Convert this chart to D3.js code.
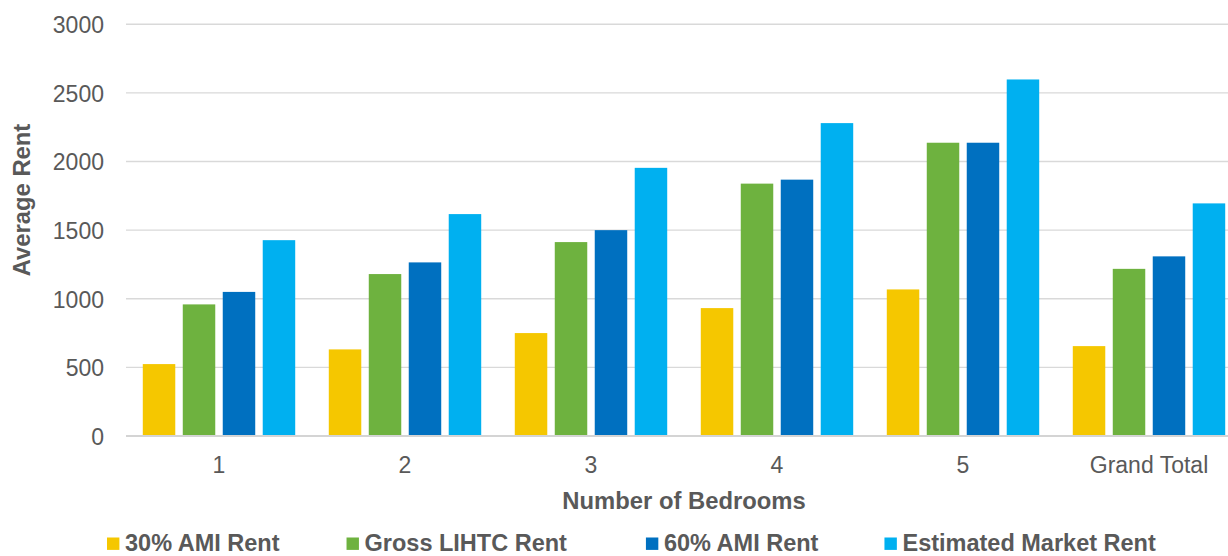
<!DOCTYPE html>
<html>
<head>
<meta charset="utf-8">
<script src="https://cdn.jsdelivr.net/npm/d3@7"></script>
<style>
  html, body { margin: 0; padding: 0; background: #fff; overflow: hidden; }
  svg { display: block; font-family: "Liberation Sans", Arial, sans-serif; }
</style>
</head>
<body>
<svg id="chart" width="1228" height="556"></svg>
<script>
const categories = ["1", "2", "3", "4", "5", "Grand Total"];
const seriesNames = ["30% AMI Rent", "Gross LIHTC Rent", "60% AMI Rent", "Estimated Market Rent"];
const ami30 = [524, 631, 750, 932, 1068, 655];
const grossLIHTC = [959, 1180, 1413, 1839, 2137, 1218];
const ami60 = [1050, 1265, 1500, 1868, 2137, 1309];
const marketRent = [1427, 1617, 1954, 2280, 2598, 1695];
const yTicks = [0, 500, 1000, 1500, 2000, 2500, 3000];
const colors = ["#F5C700", "#6EB23F", "#0070C0", "#00B0F0"];

const seriesValues = [ami30, grossLIHTC, ami60, marketRent];
const svg = d3.select("#chart");
const textColor = "#595959";

const x0 = d3.scaleBand().domain(categories).range([126, 1242]).padding(0);
const x1 = d3.scaleBand().domain(seriesNames).range([0, x0.bandwidth()])
  .paddingInner(0.1875).paddingOuter(0.42);
const y = d3.scaleLinear().domain([0, 3000]).range([436, 24.3]);

// gridlines
svg.append("g").selectAll("line").data(yTicks.filter(d => d > 0)).join("line")
  .attr("x1", 126).attr("x2", 1228)
  .attr("y1", d => y(d)).attr("y2", d => y(d))
  .attr("stroke", "#d9d9d9").attr("stroke-width", 1.4);

// bars
const groups = svg.append("g").selectAll("g").data(categories).join("g")
  .attr("transform", d => `translate(${x0(d)},0)`);
groups.selectAll("rect")
  .data((c, i) => seriesNames.map((s, j) => ({ s, j, v: seriesValues[j][i] })))
  .join("rect")
  .attr("x", d => x1(d.s))
  .attr("width", x1.bandwidth())
  .attr("y", d => y(d.v))
  .attr("height", d => y(0) - y(d.v))
  .attr("fill", d => colors[d.j]);

// baseline
svg.append("line").attr("x1", 126).attr("x2", 1228)
  .attr("y1", y(0)).attr("y2", y(0))
  .attr("stroke", "#d4d4d4").attr("stroke-width", 2.2);

// y axis
const yAxis = d3.axisLeft(y).tickValues(yTicks).tickFormat(d3.format("d")).tickSize(0).tickPadding(0);
const gy = svg.append("g").attr("transform", "translate(104,0)").call(yAxis);
gy.select(".domain").remove();
gy.selectAll("text").attr("fill", textColor).attr("font-size", "23px")
  .attr("font-family", "Liberation Sans, Arial, sans-serif").attr("dy", "0.36em");

// x axis
const xAxis = d3.axisBottom(x0).tickSize(0).tickPadding(0);
const gx = svg.append("g").attr("transform", "translate(0,473)").call(xAxis);
gx.select(".domain").remove();
gx.selectAll("text").attr("fill", textColor).attr("font-size", "23px")
  .attr("font-family", "Liberation Sans, Arial, sans-serif").attr("dy", 0).attr("y", 0);

// axis titles
svg.append("text").attr("x", 684).attr("y", 508.5)
  .attr("text-anchor", "middle").attr("font-size", "23.8px").attr("font-weight", "bold")
  .attr("fill", textColor).text("Number of Bedrooms");
svg.append("text").attr("transform", "translate(29.5,200) rotate(-90)")
  .attr("text-anchor", "middle").attr("font-size", "23.8px").attr("font-weight", "bold")
  .attr("fill", textColor).text("Average Rent");

// legend
const legend = svg.append("g");
let lx = 107;
const gaps = [67, 79, 66];
seriesNames.forEach((name, i) => {
  const g = legend.append("g").attr("transform", `translate(${lx},0)`);
  g.append("rect").attr("x", 0).attr("y", 537.5).attr("width", 12.4).attr("height", 12.4)
    .attr("fill", colors[i]);
  const t = g.append("text").attr("x", 18).attr("y", 550.5)
    .attr("font-size", "23.5px").attr("font-weight", "bold").attr("fill", textColor).text(name);
  lx += 18 + t.node().getComputedTextLength() + (gaps[i] || 0);
});
</script>
</body>
</html>
